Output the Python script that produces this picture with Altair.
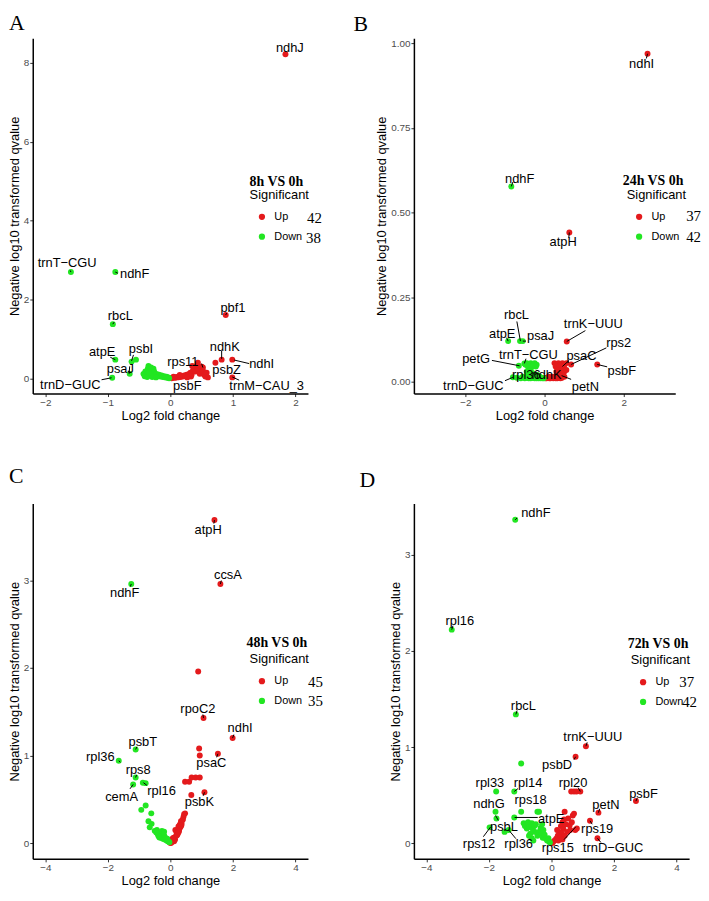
import altair as alt
import pandas as pd

RED = "#E41A1C"
GREEN = "#22E622"
SANS = "Liberation Sans"
SERIF = "Liberation Serif"

# ---------------- shared texts ----------------
letters = ["A", "B", "C", "D"]
comparisons = ["8h VS 0h", "24h VS 0h", "48h VS 0h", "72h VS 0h"]
up_counts = [42, 37, 45, 37]
down_counts = [38, 42, 35, 42]

# ---------------- Panel A (8h vs 0h) ----------------
a_up_x = [1.84, 0.885, 0.82, 0.99, 0.99, 0.44, 0.52, 0.33, 0.02, 0.04, 0.06, 0.08, 0.10, 0.12, 0.14, 0.16, 0.18, 0.20,
          0.22, 0.24, 0.26, 0.28, 0.30, 0.32, 0.34, 0.36, 0.38, 0.40, 0.42, 0.45, 0.47, 0.50, 0.52, 0.54, 0.56, 0.58,
          0.60, 0.35, 0.72, 0.27, 0.05, 0.15]
a_up_y = [8.22, 1.61, 0.48, 0.48, 0.03, 0.40, 0.28, 0.05, 0.01, 0.02, 0.03, 0.02, 0.04, 0.03, 0.05, 0.04, 0.06, 0.05,
          0.08, 0.06, 0.10, 0.08, 0.12, 0.15, 0.10, 0.20, 0.25, 0.18, 0.30, 0.22, 0.12, 0.30, 0.20, 0.10, 0.05, 0.15,
          0.03, 0.32, 0.40, 0.03, 0.05, 0.09]
a_down_x = [-1.59, -0.88, -0.92, -0.88, -0.62, -0.55, -0.65, -0.93, -0.35, -0.36, -0.40, -0.43, -0.38, -0.33, -0.30,
            -0.32, -0.28, -0.26, -0.25, -0.22, -0.20, -0.18, -0.16, -0.14, -0.12, -0.10, -0.08, -0.06, -0.05, -0.03,
            -0.02, -0.41, -0.37, -0.29, -0.23, -0.34, -0.27, -0.31]
a_down_y = [2.70, 2.70, 1.38, 0.48, 0.43, 0.48, 0.12, 0.02, 0.32, 0.25, 0.18, 0.12, 0.10, 0.20, 0.15, 0.08, 0.12, 0.18,
            0.08, 0.12, 0.06, 0.10, 0.05, 0.08, 0.04, 0.06, 0.03, 0.05, 0.02, 0.03, 0.01, 0.06, 0.04, 0.04, 0.03, 0.14,
            0.25, 0.28]
a_lab_t = ["ndhJ", "trnT−CGU", "ndhF", "rbcL", "pbf1", "ndhK", "ndhI", "psbZ", "trnM−CAU_3", "rps11", "psbF",
           "atpE", "psbI", "psaJ", "trnD−GUC"]
a_lab_x = [1.91, -1.65, -0.57, -0.80, 1.00, 0.87, 1.46, 0.90, 1.54, 0.20, 0.27, -1.09, -0.47, -0.80, -1.60]
a_lab_y = [8.39, 2.92, 2.64, 1.58, 1.79, 0.81, 0.38, 0.21, -0.18, 0.43, -0.18, 0.68, 0.75, 0.24, -0.17]
a_seg_x = [0.82, 1.02, 0.99, 0.50, -0.96, -0.59, -0.65, -1.10, -0.92, -1.59, -0.88, 0.885]
a_seg_y = [0.70, 0.47, 0.04, 0.38, 0.54, 0.60, 0.31, -0.03, 1.38, 2.70, 2.70, 1.61]
a_seg_x2 = [0.82, 1.26, 1.10, 0.52, -0.88, -0.62, -0.66, -0.94, -0.90, -1.60, -0.84, 0.90]
a_seg_y2 = [0.50, 0.38, -0.04, 0.28, 0.48, 0.45, 0.12, 0.02, 1.43, 2.74, 2.67, 1.66]

# ---------------- Panel B (24h vs 0h) ----------------
b_up_x = [2.60, 0.625, 0.56, 0.67, 1.33, 0.50, 0.25, 0.30, 0.35, 0.40, 0.45, 0.50, 0.28, 0.38, 0.48, 0.55, 0.30, 0.40,
          0.50, 0.45, 0.35, 0.55, 0.02, 0.05, 0.08, 0.12, 0.15, 0.18, 0.22, 0.25, 0.28, 0.32, 0.36, 0.40, 0.44, 0.10,
          0.20]
b_up_y = [0.969, 0.441, 0.119, 0.051, 0.051, 0.015, 0.055, 0.05, 0.055, 0.05, 0.055, 0.05, 0.045, 0.045, 0.045, 0.055,
          0.03, 0.035, 0.03, 0.025, 0.02, 0.035, 0.01, 0.01, 0.012, 0.01, 0.01, 0.012, 0.01, 0.012, 0.01, 0.01, 0.012,
          0.01, 0.012, 0.015, 0.015]
b_down_x = [-0.84, -0.92, -0.62, -0.55, -0.65, -0.51, -0.80, -0.45, -0.40, -0.35, -0.30, -0.25, -0.20, -0.42, -0.32,
            -0.22, -0.48, -0.45, -0.38, -0.30, -0.42, -0.35, -0.60, -0.55, -0.50, -0.45, -0.40, -0.35, -0.30, -0.25,
            -0.20, -0.15, -0.10, -0.05, -0.02, -0.70, -0.28, -0.18, -0.12, -0.08, -0.33, -0.23]
b_down_y = [0.577, 0.12, 0.12, 0.12, 0.047, 0.054, 0.013, 0.055, 0.05, 0.055, 0.05, 0.055, 0.05, 0.045, 0.045, 0.045,
            0.05, 0.03, 0.03, 0.025, 0.02, 0.035, 0.01, 0.015, 0.01, 0.012, 0.01, 0.01, 0.012, 0.01, 0.01, 0.01, 0.01,
            0.01, 0.01, 0.012, 0.02, 0.02, 0.015, 0.012, 0.018, 0.015]
b_lab_t = ["ndhI", "ndhF", "atpH", "rbcL", "atpE", "psaJ", "trnK−UUU", "rps2", "psaC", "psbF", "petG", "trnT−CGU",
           "rpl36", "ndhK", "petN", "trnD−GUC"]
b_lab_x = [2.45, -0.63, 0.47, -0.71, -1.07, -0.10, 1.23, 1.87, 0.93, 1.95, -1.73, -0.41, -0.46, 0.05, 1.03, -1.80]
b_lab_y = [0.939, 0.60, 0.413, 0.197, 0.141, 0.134, 0.169, 0.115, 0.075, 0.032, 0.068, 0.080, 0.021, 0.021, -0.015,
           -0.013]
b_seg_x = [-0.70, -0.47, 1.03, 1.56, 1.58, -1.33, -1.00, 0.67, 0.62, -0.51, 2.60, -0.84, 0.625, -0.92]
b_seg_y = [0.178, 0.12, 0.151, 0.10, 0.044, 0.063, 0.003, 0.007, 0.063, 0.054, 0.969, 0.577, 0.441, 0.12]
b_seg_x2 = [-0.61, -0.55, 0.56, 0.67, 1.33, -0.63, -0.80, 0.43, 0.45, -0.47, 2.57, -0.80, 0.61, -0.96]
b_seg_y2 = [0.12, 0.12, 0.119, 0.051, 0.051, 0.047, 0.013, 0.018, 0.045, 0.068, 0.955, 0.59, 0.425, 0.13]

# ---------------- Panel C (48h vs 0h) ----------------
c_up_x = [1.41, 1.60, 1.06, 1.99, 1.52, 1.09, 0.89, 0.92, 0.94, 0.47, 0.60, 0.68, 0.81, 0.94, 0.67, 0.47, 0.40, 0.34,
          0.26, 0.16, 0.23, 0.13, 0.05, 0.00, 0.02, 0.08, 0.10, 0.18, 0.20, 0.28, 0.30, 0.36, 0.42, 0.44, 0.12, 0.06,
          0.15, 0.25, 0.32, 0.38, 0.03, 0.09, 0.21, 0.27, 0.35]
c_up_y = [3.69, 2.96, 1.43, 1.20, 1.02, 0.58, 1.96, 1.08, 1.00, 0.70, 0.70, 0.75, 0.75, 0.75, 0.55, 0.34, 0.27, 0.25,
          0.19, 0.15, 0.10, 0.064, 0.045, 0.00, 0.01, 0.03, 0.05, 0.08, 0.12, 0.15, 0.21, 0.22, 0.30, 0.33, 0.02, 0.02,
          0.04, 0.12, 0.18, 0.26, 0.005, 0.06, 0.09, 0.13, 0.20]
c_down_x = [-1.25, -1.11, -1.65, -1.11, -1.19, -0.88, -0.79, -0.93, -0.79, -0.61, -0.70, -0.66, -0.43, -0.27, -0.35,
            -0.19, -0.14, -0.27, -0.60, -0.50, -0.40, -0.32, -0.22, -0.30, -0.24, -0.18, -0.12, -0.08, -0.05, -0.03,
            -0.38, -0.45, -0.20, -0.10, -0.16]
c_down_y = [2.96, 1.07, 0.94, 0.75, 0.67, 0.69, 0.685, 0.38, 0.43, 0.34, 0.25, 0.18, 0.15, 0.14, 0.064, 0.08, 0.045,
            0.10, 0.22, 0.14, 0.10, 0.12, 0.10, 0.06, 0.05, 0.04, 0.03, 0.02, 0.015, 0.01, 0.08, 0.12, 0.13, 0.05, 0.06]
c_lab_t = ["atpH", "ccsA", "ndhF", "rpoC2", "ndhI", "psaC", "psbK", "psbT", "rpl36", "rps8", "cemA", "rpl16"]
c_lab_x = [1.21, 1.84, -1.46, 0.88, 2.23, 1.31, 0.93, -0.88, -2.24, -1.03, -1.56, -0.28]
c_lab_y = [3.58, 3.06, 2.86, 1.53, 1.31, 0.91, 0.47, 1.16, 0.985, 0.84, 0.53, 0.59]
c_seg_x = [-1.29, -0.75, 1.05, -1.11, -1.11, -1.65, -1.25, 1.60, 1.41, 1.06, 1.99, 1.52]
c_seg_y = [0.62, 0.66, 0.54, 1.07, 0.75, 0.94, 2.96, 2.96, 3.69, 1.43, 1.20, 1.02]
c_seg_x2 = [-1.19, -0.86, 1.09, -1.07, -1.08, -1.60, -1.28, 1.63, 1.39, 1.04, 2.03, 1.48]
c_seg_y2 = [0.67, 0.69, 0.58, 1.10, 0.78, 0.925, 2.93, 3.00, 3.65, 1.47, 1.24, 0.98]

# ---------------- Panel D (72h vs 0h) ----------------
d_up_x = [1.10, 0.77, 0.63, 0.72, 0.80, 0.92, 2.70, 1.50, 1.23, 1.47, 0.76, 0.42, 0.68, 0.72, 0.53, 0.58, 0.81, 0.40,
          0.35, 0.30, 0.38, 0.45, 0.25, 0.32, 0.20, 0.28, 0.15, 0.10, 0.05, 0.02, 0.22, 0.50, 0.42, 0.35, 0.60, 0.18,
          0.65]
d_up_y = [1.01, 0.90, 0.54, 0.54, 0.54, 0.54, 0.44, 0.32, 0.235, 0.054, 0.14, 0.33, 0.29, 0.31, 0.26, 0.19, 0.156,
          0.25, 0.22, 0.18, 0.15, 0.20, 0.12, 0.10, 0.08, 0.06, 0.05, 0.03, 0.015, 0.005, 0.03, 0.12, 0.08, 0.04, 0.14,
          0.14, 0.22]
d_down_x = [-1.16, -3.19, -1.14, -0.97, -1.19, -1.77, -1.79, -1.76, -1.19, -1.98, -1.37, -1.50, -0.97, -0.45, -0.40,
            -0.89, -0.63, -0.79, -0.53, -0.63, -0.26, -0.10, -0.85, -0.75, -0.70, -0.68, -0.60, -0.55, -0.50, -0.45,
            -0.40, -0.35, -0.32, -0.28, -0.22, -0.18, -0.14, -0.08, -0.05, -0.72, -0.58, -0.30]
d_down_y = [3.36, 2.22, 1.34, 0.83, 0.54, 0.54, 0.33, 0.26, 0.27, 0.167, 0.14, 0.12, 0.33, 0.33, 0.33, 0.21, 0.21,
            0.156, 0.12, 0.054, 0.14, 0.054, 0.18, 0.22, 0.17, 0.10, 0.15, 0.18, 0.20, 0.08, 0.12, 0.16, 0.10, 0.06,
            0.09, 0.05, 0.03, 0.02, 0.01, 0.08, 0.03, 0.20]
d_lab_t = ["ndhF", "rpl16", "rbcL", "trnK−UUU", "psbD", "rpl20", "psbF", "petN", "rps19", "trnD−GUC", "rps15",
           "atpE", "rps18", "rpl14", "rpl33", "ndhG", "psbL", "rps12", "rpl36"]
d_lab_x = [-0.50, -2.93, -0.90, 1.32, 0.18, 0.69, 2.94, 1.74, 1.46, 1.97, 0.20, -0.01, -0.67, -0.75, -1.97, -2.00,
           -1.52, -2.32, -1.05]
d_lab_y = [3.43, 2.31, 1.43, 1.10, 0.81, 0.625, 0.51, 0.40, 0.15, -0.05, -0.05, 0.25, 0.45, 0.63, 0.63, 0.41, 0.17,
           -0.01, -0.01]
d_seg_x = [0.40, -1.18, -2.18, -1.37, -1.79, -1.19, 0.92, 1.10, 0.77, 1.50, 1.23, 1.47, 2.70, -1.14, -1.16, -3.19]
d_seg_y = [0.04, 0.27, 0.07, 0.14, 0.29, 0.54, 0.54, 1.01, 0.90, 0.32, 0.235, 0.054, 0.44, 1.34, 3.36, 2.22]
d_seg_x2 = [0.77, -0.44, -1.95, -1.14, -1.70, -1.07, 0.85, 1.14, 0.72, 1.54, 1.30, 1.58, 2.74, -1.10, -1.10, -3.15]
d_seg_y2 = [0.17, 0.27, 0.17, 0.05, 0.24, 0.57, 0.58, 1.05, 0.87, 0.36, 0.20, 0.01, 0.47, 1.38, 3.38, 2.26]


def text_at(s, px, py, font, size, weight="normal", baseline="middle"):
    return alt.Chart(pd.DataFrame({"k": [0]})).mark_text(
        font=font, fontSize=size, fontWeight=weight, color="black", align="left", baseline=baseline
    ).encode(x=alt.value(px), y=alt.value(py), text=alt.value(s))


def make_panel(i, up_x, up_y, down_x, down_y, lab_t, lab_x, lab_y, sx, sy, sx2, sy2,
               xdom, ydom, xticks, yticks, yfmt, width, lay):
    pts = pd.DataFrame({"x": up_x + down_x, "y": up_y + down_y,
                        "Significant": ["Up"] * len(up_x) + ["Down"] * len(down_x)})
    labs = pd.DataFrame({"gene": lab_t, "x": lab_x, "y": lab_y})
    segs = pd.DataFrame({"x": sx, "y": sy, "x2": sx2, "y2": sy2})

    X = alt.X("x:Q", scale=alt.Scale(domain=xdom, nice=False, zero=False),
              axis=alt.Axis(values=xticks, title="Log2 fold change"))
    Y = alt.Y("y:Q", scale=alt.Scale(domain=ydom, nice=False, zero=False),
              axis=alt.Axis(values=yticks, format=yfmt, title="Negative log10 transformed qvalue"))

    lx, ly = lay["legend"]
    points = alt.Chart(pts).mark_circle(size=36, opacity=1).encode(
        x=X, y=Y,
        color=alt.Color("Significant:N",
                        scale=alt.Scale(domain=["Up", "Down"], range=[RED, GREEN]),
                        legend=alt.Legend(orient="none", legendX=lx, legendY=ly, title="Significant",
                                          titleFont=SANS, titleFontSize=13, titleFontWeight="normal",
                                          titleColor="black", labelFont=SANS, labelFontSize=11,
                                          labelColor="black", symbolType="circle", symbolSize=40,
                                          symbolStrokeWidth=0, symbolOffset=7, labelOffset=7,
                                          rowPadding=8, titlePadding=10, padding=0)))
    segments = alt.Chart(segs).mark_rule(color="black", strokeWidth=1).encode(
        x=X, y=Y, x2="x2:Q", y2="y2:Q")
    labels = alt.Chart(labs).mark_text(font=SANS, fontSize=13, color="black").encode(
        x=X, y=Y, text="gene:N")

    cx, cy = lay["comp"]
    ux, uy = lay["up"]
    dx_, dy_ = lay["down"]
    tx, ty = lay["letter"]
    comp = text_at(comparisons[i], cx, cy, SERIF, 14, "bold")
    upn = text_at(str(up_counts[i]), ux, uy, SERIF, 15)
    downn = text_at(str(down_counts[i]), dx_, dy_, SERIF, 15)
    letter = text_at(letters[i], tx, ty, SERIF, 22, baseline="top")

    return alt.layer(points, segments, labels, comp, upn, downn, letter).properties(
        width=width, height=359)


pA = make_panel(0, a_up_x, a_up_y, a_down_x, a_down_y, a_lab_t, a_lab_x, a_lab_y,
                a_seg_x, a_seg_y, a_seg_x2, a_seg_y2,
                [-2.2, 2.2], [-0.38, 8.63], [-2, -1, 0, 1, 2], [0, 2, 4, 6, 8], "d", 278,
                {"legend": (219, 152), "comp": (219, 145), "up": (277, 182), "down": (276, 202),
                 "letter": (-24, -25)})
pB = make_panel(1, b_up_x, b_up_y, b_down_x, b_down_y, b_lab_t, b_lab_x, b_lab_y,
                b_seg_x, b_seg_y, b_seg_x2, b_seg_y2,
                [-3.3, 3.3], [-0.035, 1.015], [-2, 0, 2], [0, 0.25, 0.5, 0.75, 1.0], ".2f", 264,
                {"legend": (215, 152), "comp": (211, 144), "up": (275, 180), "down": (275, 201),
                 "letter": (-61, -24)})
pC = make_panel(2, c_up_x, c_up_y, c_down_x, c_down_y, c_lab_t, c_lab_x, c_lab_y,
                c_seg_x, c_seg_y, c_seg_x2, c_seg_y2,
                [-4.4, 4.4], [-0.18, 3.88], [-4, -2, 0, 2, 4], [0, 1, 2, 3], "d", 278,
                {"legend": (219, 151), "comp": (216, 141), "up": (278, 180), "down": (278, 200),
                 "letter": (-24, -38)})
pD = make_panel(3, d_up_x, d_up_y, d_down_x, d_down_y, d_lab_t, d_lab_x, d_lab_y,
                d_seg_x, d_seg_y, d_seg_x2, d_seg_y2,
                [-4.4, 4.4], [-0.16, 3.53], [-4, -2, 0, 2, 4], [0, 1, 2, 3], "d", 278,
                {"legend": (219, 152), "comp": (216, 142), "up": (268, 180), "down": (271, 201),
                 "letter": (-55, -34)})

chart = alt.concat(pA, pB, pC, pD, columns=2, spacing={"row": 111, "column": 107}, bounds="flush").resolve_scale(
    x="independent", y="independent", color="independent"
).resolve_legend(color="independent").properties(padding=0).configure_view(
    stroke=None
).configure_axis(
    domainColor="black", domainWidth=1.5, tickColor="#333333", tickSize=3, tickWidth=1,
    labelColor="#4D4D4D", labelFont=SANS, labelFontSize=10, labelPadding=1,
    titleFont=SANS, titleFontSize=13, titleFontWeight="normal", titleColor="black",
    titlePadding=2, grid=False
)

chart.save("out.html", embed_options={"renderer": "svg", "actions": False})
